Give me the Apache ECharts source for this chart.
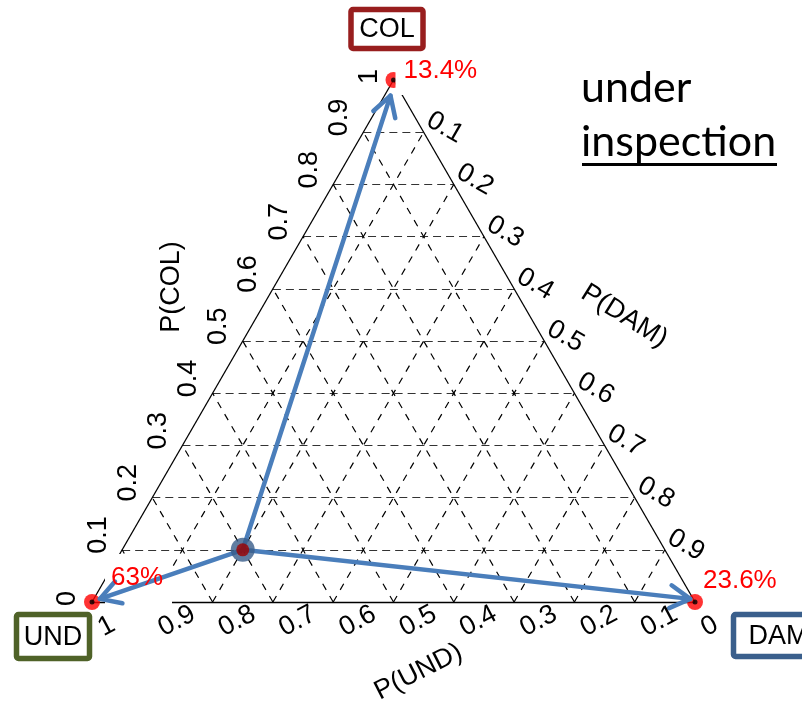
<!DOCTYPE html>
<html>
<head>
<meta charset="utf-8">
<script src="https://cdn.jsdelivr.net/npm/echarts@6/dist/echarts.min.js"></script>
<style>
  html, body { margin: 0; padding: 0; background: #fff; }
  #chart { width: 802px; height: 708px; }
</style>
</head>
<body>
<div id="chart"></div>
<script>
// Ternary components, in (UND, DAM, COL) order
const components = ['UND', 'DAM', 'COL'];
const componentColors = ['#4F6228', '#3A5F8C', '#981E1E'];
const cornerShares = [63, 23.6, 13.4];

// Grid levels and tick labels of the three axes
const gridSteps = [0.1, 0.2, 0.3, 0.4, 0.5, 0.6, 0.7, 0.8, 0.9];
const colTickLabels = ['0', '0.1', '0.2', '0.3', '0.4', '0.5', '0.6', '0.7', '0.8', '0.9', '1'];
const damTickLabels = ['0.1', '0.2', '0.3', '0.4', '0.5', '0.6', '0.7', '0.8', '0.9'];
const undTickLabels = ['1', '0.9', '0.8', '0.7', '0.6', '0.5', '0.4', '0.3', '0.2', '0.1', '0'];

// Inspected state and the tips of the arrows leaving it (UND, DAM, COL)
const inspected = [0.7, 0.2, 0.1];
const arrowTips = [
  [0.984, 0.010, 0.006],
  [0.005, 0.989, 0.006],
  [0.020, 0.010, 0.970]
];

const H = Math.sqrt(3) / 2;
function toXY(t) { return [t[1] + t[2] / 2, t[2] * H]; }

const corners = [[1, 0, 0], [0, 1, 0], [0, 0, 1]];

// dashed grid lines
const colLines = gridSteps.map(v => ({ coords: [toXY([1 - v, 0, v]), toXY([0, 1 - v, v])] }));
const diagLines = [];
gridSteps.forEach(v => {
  diagLines.push({ coords: [toXY([1 - v, v, 0]), toXY([0, v, 1 - v])] });
  diagLines.push({ coords: [toXY([v, 1 - v, 0]), toXY([v, 0, 1 - v])] });
});
const edgeLines = [
  { coords: [toXY(corners[0]), toXY(corners[1])] },
  { coords: [toXY(corners[1]), toXY(corners[2])] },
  { coords: [toXY(corners[2]), toXY(corners[0])] }
];

const chart = echarts.init(document.getElementById('chart'), null, { renderer: 'canvas' });

chart.setOption({
  animation: false,
  backgroundColor: '#fff',
  grid: { left: 92, top: 80, width: 603, height: 522 },
  xAxis: { type: 'value', min: 0, max: 1, show: false },
  yAxis: { type: 'value', min: 0, max: H, show: false },
  series: [
    {
      type: 'lines', coordinateSystem: 'cartesian2d', z: 1, clip: false, silent: true,
      lineStyle: { color: '#333', width: 1.2, type: [8, 5], opacity: 1 },
      data: colLines
    },
    {
      type: 'lines', coordinateSystem: 'cartesian2d', z: 1, clip: false, silent: true,
      lineStyle: { color: '#000', width: 1.2, type: [7, 7], opacity: 1 },
      data: diagLines
    },
    {
      type: 'lines', coordinateSystem: 'cartesian2d', z: 2, clip: false, silent: true,
      lineStyle: { color: '#000', width: 1.3, type: 'solid', opacity: 1 },
      data: edgeLines
    },
    {
      type: 'scatter', z: 3, clip: false, silent: true,
      symbolSize: 16, itemStyle: { color: '#FF0000' },
      data: corners.map(toXY)
    },
    {
      type: 'scatter', z: 4, clip: false, silent: true,
      symbolSize: 5, itemStyle: { color: '#000' },
      data: corners.map(toXY)
    },
    {
      type: 'custom', coordinateSystem: 'cartesian2d', z: 10, clip: false, silent: true,
      encode: { x: [0, 2], y: [1, 3] },
      data: arrowTips.map(t => toXY(inspected).concat(toXY(t))),
      renderItem: function (params, api) {
        const a = api.coord([api.value(0), api.value(1)]);
        const b = api.coord([api.value(2), api.value(3)]);
        const ang = Math.atan2(a[1] - b[1], a[0] - b[0]);
        const L = 23, w = Math.PI / 6;
        const h1 = [b[0] + L * Math.cos(ang + w), b[1] + L * Math.sin(ang + w)];
        const h2 = [b[0] + L * Math.cos(ang - w), b[1] + L * Math.sin(ang - w)];
        const style = { stroke: '#4A7EBB', lineWidth: 4.5, fill: 'none', lineCap: 'round', lineJoin: 'round' };
        return {
          type: 'group',
          children: [
            { type: 'line', shape: { x1: a[0], y1: a[1], x2: b[0], y2: b[1] }, style: style },
            { type: 'polyline', shape: { points: [h1, b, h2] }, style: style }
          ]
        };
      }
    },
    {
      type: 'scatter', z: 12, clip: false, silent: true,
      symbolSize: 24, itemStyle: { color: '#385D8A' },
      data: [toXY(inspected)]
    },
    {
      type: 'scatter', z: 13, clip: false, silent: true,
      symbolSize: 13, itemStyle: { color: '#9C0000' },
      data: [toXY(inspected)]
    }
  ]
});

// pixel position of a ternary point through the grid's scales
const px = t => chart.convertToPixel({ gridIndex: 0 }, toXY(t));

const FONT = '"Liberation Sans", Arial, sans-serif';
function txt(text, x, y, rot, size, opts) {
  return {
    type: 'text', x: x, y: y, rotation: rot, z: 50, silent: true,
    style: Object.assign({
      text: text, font: size + 'px ' + FONT, fill: '#000',
      align: 'left', verticalAlign: 'middle',
      textAlign: 'left', textVerticalAlign: 'middle'
    }, opts || {})
  };
}
const deg = d => d * Math.PI / 180;
const graphics = [];

// tick labels
const TICK = 27;
colTickLabels.forEach(s => {
  const v = parseFloat(s);
  const p = px([1 - v, 0, v]);
  graphics.push(txt(s, p[0] - 24, p[1] + 4, deg(90), TICK));
});
damTickLabels.forEach(s => {
  const v = parseFloat(s);
  const p = px([0, v, 1 - v]);
  graphics.push(txt(s, p[0] + 5, p[1] - 14, deg(-30), TICK));
});
undTickLabels.forEach(s => {
  const v = parseFloat(s);
  const p = px([v, 1 - v, 0]);
  graphics.push(txt(s, p[0] + 8, p[1] + 28, deg(28), TICK));
});

// axis titles
const centerAlign = { align: 'center', textAlign: 'center' };
let m = px([0.5, 0, 0.5]);
graphics.push(txt('P(COL)', m[0] - 71, m[1] - 54, deg(90), 27, centerAlign));
m = px([0, 0.5, 0.5]);
graphics.push(txt('P(DAM)', m[0] + 80, m[1] - 25, deg(-32), 27, centerAlign));
m = px([0.5, 0.5, 0]);
graphics.push(txt('P(UND)', m[0] + 25, m[1] + 70, deg(27), 27, centerAlign));

// white backing under two of the share labels
const cU = px(corners[0]), cD = px(corners[1]), cC = px(corners[2]);
graphics.push({ type: 'rect', z: 5, silent: true, shape: { x: cU[0] + 13, y: cU[1] - 48, width: 67, height: 52 }, style: { fill: '#fff' } });
graphics.push({ type: 'rect', z: 5, silent: true, shape: { x: cC[0] + 2, y: cC[1] - 26, width: 86, height: 41 }, style: { fill: '#fff' } });

// share labels at the corners
const shareOffsets = [[19, -24], [8, -21], [10, -9]];
[cU, cD, cC].forEach((c, i) => {
  graphics.push(txt(cornerShares[i] + '%', c[0] + shareOffsets[i][0], c[1] + shareOffsets[i][1], 0, 26, { fill: '#FF0000' }));
});

// component name boxes
const boxOffsets = [[-39, 34.5], [74.5, 33.5], [-6.5, -51]];
const boxSizes = [[73, 44], [72, 42], [72, 39]];
[cU, cD, cC].forEach((c, i) => {
  const cx = c[0] + boxOffsets[i][0], cy = c[1] + boxOffsets[i][1];
  const w = boxSizes[i][0], h = boxSizes[i][1];
  graphics.push({
    type: 'rect', z: 40, silent: true,
    shape: { x: cx - w / 2, y: cy - h / 2, width: w, height: h, r: 2 },
    style: { fill: '#fff', stroke: componentColors[i], lineWidth: 5.5 }
  });
  if (i === 1) {
    graphics.push(txt(components[i], cx - w / 2 + 15, cy + 1, 0, 27));
  } else {
    graphics.push(txt(components[i], cx, cy + 1, 0, 27, centerAlign));
  }
});

// status note
const NOTE_FONT = '"Lato", "Open Sans", sans-serif';
graphics.push(txt('under', 581, 88, 0, 43, { font: '43px ' + NOTE_FONT }));
graphics.push(txt('inspection', 581, 142, 0, 43, { font: '43px ' + NOTE_FONT }));
graphics.push({ type: 'rect', z: 50, silent: true, shape: { x: 582, y: 163, width: 195, height: 3 }, style: { fill: '#000' } });

chart.setOption({ graphic: { elements: graphics } });
</script>
</body>
</html>
